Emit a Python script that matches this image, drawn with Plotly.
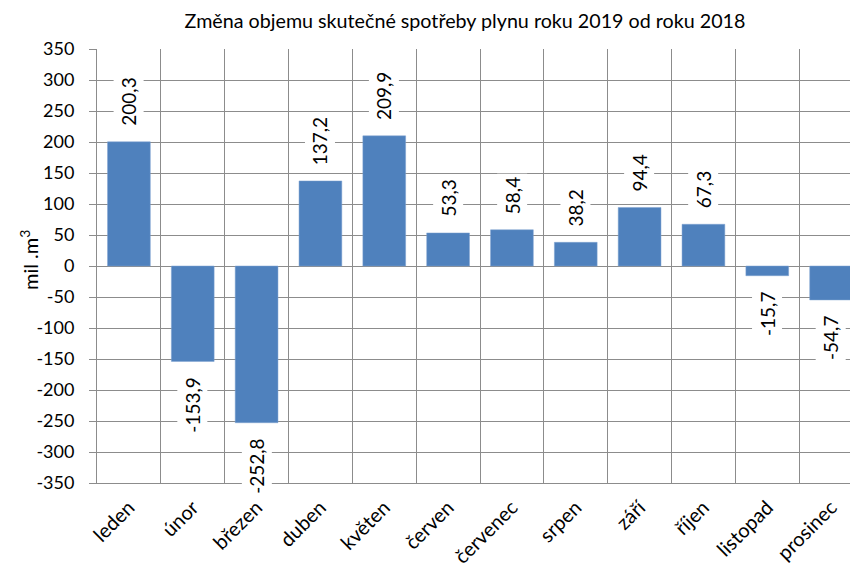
import plotly.graph_objects as go

months = ["leden", "únor", "březen", "duben", "květen", "červen",
          "červenec", "srpen", "září", "říjen", "listopad", "prosinec"]
values = [200.3, -153.9, -252.8, 137.2, 209.9, 53.3, 58.4, 38.2, 94.4, 67.3, -15.7, -54.7]
y_ticks = list(range(-350, 351, 50))

title_text = "Změna objemu skutečné spotřeby plynu roku 2019 od roku 2018"
y_title = "mil .m<sup>3</sup>"

FONT = "Lato"
BAR = "#4F81BD"
GRID = "#8C8C8C"

fig = go.Figure()
fig.add_trace(go.Bar(
    x=months, y=values, marker=dict(color=BAR, line=dict(color="#7FA3D0", width=0.5)),
    width=0.67, hoverinfo="x+y",
))

for m, v in zip(months, values):
    lbl = f"{v:.1f}".replace(".", ",")
    fig.add_annotation(
        x=m, y=v, xref="x", yref="y", text=lbl, showarrow=False,
        textangle=-90, bgcolor="white", borderpad=3,
        yanchor="bottom" if v >= 0 else "top",
        yshift=12 if v >= 0 else -12,
        font=dict(family=FONT, size=19, color="black"),
    )

fig.add_annotation(
    xref="paper", yref="paper", x=(29 - 97) / 753, y=(567 - 84 - 260) / 434, text=y_title,
    showarrow=False, textangle=-90, xanchor="center", yanchor="middle",
    font=dict(family=FONT, size=20, color="black"),
)

fig.update_layout(
    width=850, height=567,
    margin=dict(l=97, r=0, t=49, b=84, autoexpand=False),
    paper_bgcolor="white", plot_bgcolor="white",
    showlegend=False,
    title=dict(text=title_text, x=465 / 850, xanchor="center", y=1 - 21 / 567,
               yanchor="middle", font=dict(family=FONT, size=19.7, color="black")),
    font=dict(family=FONT, size=18, color="black"),
)
fig.update_xaxes(
    range=[-0.5, 11.296], tickson="boundaries", showgrid=True, gridcolor=GRID, gridwidth=1,
    ticks="", tickangle=-45, showline=True, linecolor=GRID, linewidth=1, automargin=False,
    ticklabelstandoff=4,
    tickfont=dict(family=FONT, size=20, color="black"), zeroline=False,
)
fig.update_yaxes(
    range=[-350, 350], tickvals=y_ticks, ticktext=[str(t) for t in y_ticks],
    showgrid=True, gridcolor=GRID, gridwidth=1, zeroline=False, automargin=False,
    ticks="outside", ticklen=7, tickcolor=GRID, showline=True, linecolor=GRID, linewidth=1,
    ticklabelstandoff=11,
    tickfont=dict(family=FONT, size=18, color="black"),
)

fig.write_html("out.html", config={"displayModeBar": False},
               post_script="document.body.style.margin='0';")
